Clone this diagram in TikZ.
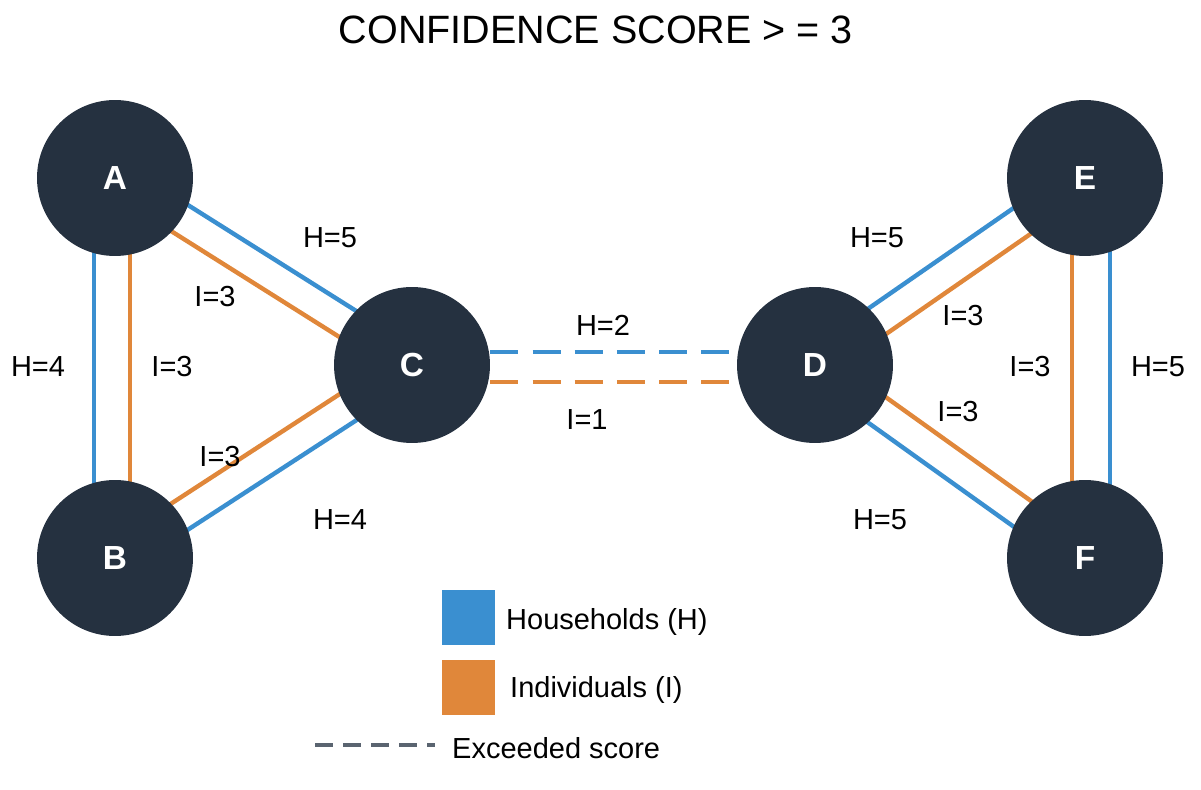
\documentclass[tikz,border=0pt]{standalone}
\usepackage{fontspec}
\setmainfont{Liberation Sans}
\usetikzlibrary{calc, backgrounds}
\definecolor{navy}{HTML}{253140}
\definecolor{hblue}{HTML}{3A8FD0}
\definecolor{iorange}{HTML}{E0873A}
\definecolor{dashgray}{HTML}{5A6470}

\newcommand{\linkpair}[4]{%
    \draw[#4] ($(#1)!#3!90:(#2)$) -- ($(#2)!#3!-90:(#1)$);}

\begin{document}
\begin{tikzpicture}[x=0.02cm, y=-0.02cm,
    hub/.style={circle, fill=navy, minimum size=3.12cm, text=white, font=\bfseries\fontsize{19}{19}\selectfont},
    hh/.style={hblue, line width=2.5pt},
    ii/.style={iorange, line width=2.5pt},
    lbl/.style={font=\fontsize{16.5}{17}\selectfont}]
    \useasboundingbox (0,0) rectangle (1201,790);

    % Title
    \node[font=\fontsize{22.5}{23}\selectfont] (title) at (596,30) {CONFIDENCE SCORE > = 3};

    % Hubs
    \node[hub] (A) at (115,178) {A};
    \node[hub] (B) at (115,558) {B};
    \node[hub] (C) at (412,365) {C};
    \node[hub] (D) at (815,365) {D};
    \node[hub] (E) at (1085,178) {E};
    \node[hub] (F) at (1085,558) {F};

    % Links
    \begin{scope}[on background layer]
        \linkpair{A}{B}{-0.42cm}{hh}
        \linkpair{A}{B}{0.3cm}{ii}
        \linkpair{A}{C}{0.32cm}{hh}
        \linkpair{A}{C}{-0.3cm}{ii}
        \linkpair{B}{C}{0.3cm}{ii}
        \linkpair{B}{C}{-0.32cm}{hh}
        \linkpair{D}{E}{0.32cm}{hh}
        \linkpair{D}{E}{-0.3cm}{ii}
        \linkpair{D}{F}{0.3cm}{ii}
        \linkpair{D}{F}{-0.32cm}{hh}
        \linkpair{E}{F}{0.5cm}{hh}
        \linkpair{E}{F}{-0.26cm}{ii}
    \end{scope}
    \draw[hh, dash pattern=on 16pt off 8pt] ([yshift=0.26cm]C.east) -- ([yshift=0.26cm]D.west);
    \draw[ii, dash pattern=on 16pt off 8pt] ([yshift=-0.34cm]C.east) -- ([yshift=-0.34cm]D.west);

    % Labels
    \node[lbl] at (330,238) {H=5};
    \node[lbl] at (215,297) {I=3};
    \node[lbl] at (38,367) {H=4};
    \node[lbl] at (172,367) {I=3};
    \node[lbl] at (220,457) {I=3};
    \node[lbl] at (340,520) {H=4};
    \node[lbl] at (603,325) {H=2};
    \node[lbl] at (587,420) {I=1};
    \node[lbl] at (877,238) {H=5};
    \node[lbl] at (963,316) {I=3};
    \node[lbl] at (1030,367) {I=3};
    \node[lbl] at (1158,367) {H=5};
    \node[lbl] at (958,412) {I=3};
    \node[lbl] at (880,520) {H=5};

    % Legend
    \fill[hblue] (442,590) rectangle (495,645);
    \node[lbl, anchor=west] (lh) at (500,622) {Households (H)};
    \fill[iorange] (442,660) rectangle (495,715);
    \node[lbl, anchor=west] (li) at (504,690) {Individuals (I)};
    \draw[dashgray, line width=2.5pt, dash pattern=on 10pt off 6pt] (315,745) -- (435,745);
    \node[lbl, anchor=west] (le) at (446,748) {Exceeded score};
\end{tikzpicture}
\end{document}
